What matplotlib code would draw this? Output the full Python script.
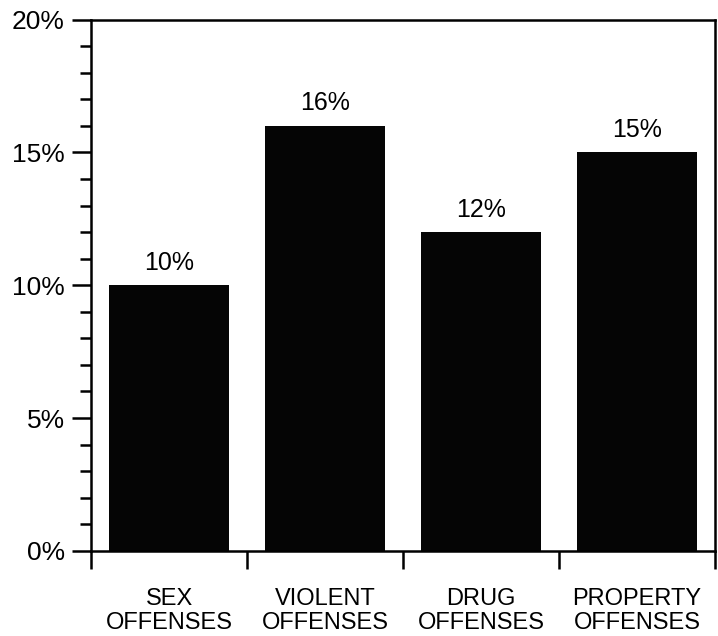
import matplotlib.pyplot as plt
from matplotlib.ticker import MultipleLocator, FixedLocator

plt.rcParams['font.family'] = ['Liberation Sans', 'DejaVu Sans']

# Data
categories = ['SEX\nOFFENSES', 'VIOLENT\nOFFENSES', 'DRUG\nOFFENSES', 'PROPERTY\nOFFENSES']
percents = [10, 16, 12, 15]

fig = plt.figure(figsize=(7.18, 6.36), dpi=100)
ax = fig.add_axes([0.127, 0.134, 0.869, 0.835])

x = range(len(categories))
bars = ax.bar(x, percents, width=0.77, color='#050505')

# value labels above bars
for xi, v in zip(x, percents):
    ax.text(xi, v + 0.4, f'{v}%', ha='center', va='bottom', fontsize=18)

ax.set_xlim(-0.5, len(categories) - 0.5)
ax.set_ylim(0, 20)

# y axis: major every 5%, minor every 1%
ax.yaxis.set_major_locator(MultipleLocator(5))
ax.yaxis.set_minor_locator(MultipleLocator(1))
ax.set_yticklabels([f'{int(t)}%' for t in ax.get_yticks()])
ax.tick_params(axis='y', which='major', length=14, width=1.8, labelsize=19, pad=5)
ax.tick_params(axis='y', which='minor', length=8, width=1.8)

# x axis: labels at bar centers, ticks at the boundaries
ax.set_xticks(list(x))
ax.set_xticklabels(categories, fontsize=17, linespacing=1.1)
ax.xaxis.set_minor_locator(FixedLocator([i - 0.5 for i in range(len(categories) + 1)]))
ax.tick_params(axis='x', which='major', length=0, pad=27)
ax.tick_params(axis='x', which='minor', length=13, width=1.8)

for s in ax.spines.values():
    s.set_linewidth(1.8)

plt.savefig('out.png', dpi=100)
